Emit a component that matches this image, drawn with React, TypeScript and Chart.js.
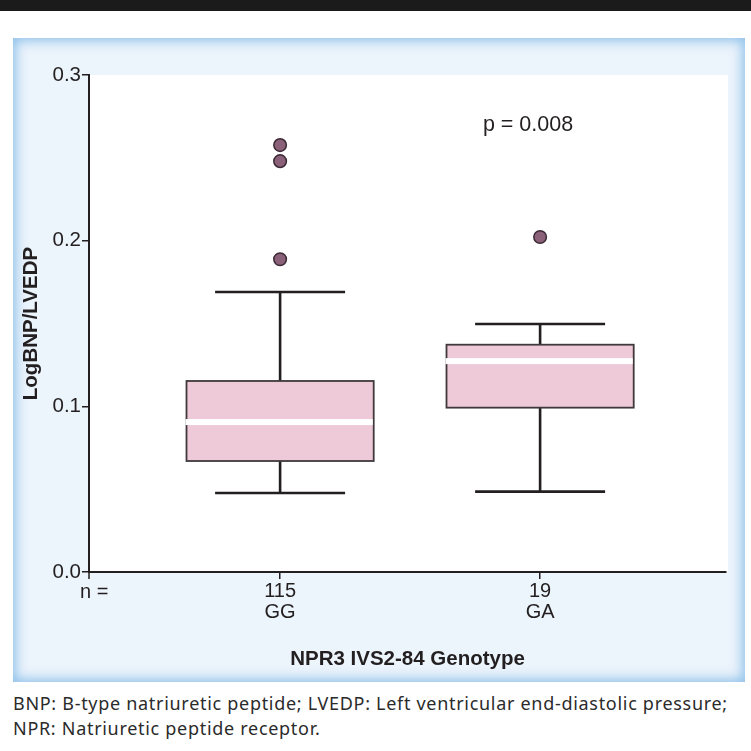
import React, { useEffect, useRef } from "react";
import { Chart, registerables } from "chart.js";

Chart.register(...registerables);

// ---- data ----
const categories = ["GG", "GA"];
const counts = ["115", "19"];
const positions = [1, 2];
const whiskerLow = [0.0477, 0.0485];
const q1 = [0.067, 0.0992];
const median = [0.0905, 0.1273];
const q3 = [0.1153, 0.1372];
const whiskerHigh = [0.169, 0.1497];
const outliersGG = [0.2577, 0.248, 0.1888];
const outliersGA = [0.2022];
const yTicks = [0, 0.1, 0.2, 0.3];
const pValueText = "p = 0.008";
const nLabel = "n =";
const xTitle = "NPR3 IVS2-84 Genotype";
const yTitle = "LogBNP/LVEDP";
const captionLines = [
  "BNP: B-type natriuretic peptide; LVEDP: Left ventricular end-diastolic pressure;",
  "NPR: Natriuretic peptide receptor.",
];

// ---- style constants ----
const FONT = "'Liberation Sans', Arial, Helvetica, sans-serif";
const INK = "#231f20";
const BOX_FILL = "#eec9d8";
const BOX_BORDER = "#3f393b";
const OUTLIER_FILL = "#8b6079";
const OUTLIER_BORDER = "#3a2a34";
const BOX_WIDTH = 0.72; // in x-units
const CAP_WIDTH = 0.5; // in x-units

const boxPlugin = {
  id: "boxplot",
  beforeDraw(chart: any) {
    const { ctx, chartArea } = chart;
    ctx.save();
    ctx.fillStyle = "#ffffff";
    ctx.fillRect(chartArea.left, chartArea.top, chartArea.right - chartArea.left + 2, chartArea.bottom - chartArea.top);
    ctx.restore();
  },
  beforeDatasetsDraw(chart: any) {
    const { ctx, scales } = chart;
    const x = scales.x;
    const y = scales.y;
    ctx.save();
    positions.forEach((pos, i) => {
      const cx = x.getPixelForValue(pos);
      const bl = x.getPixelForValue(pos - BOX_WIDTH / 2);
      const br = x.getPixelForValue(pos + BOX_WIDTH / 2);
      const cl = x.getPixelForValue(pos - CAP_WIDTH / 2);
      const cr = x.getPixelForValue(pos + CAP_WIDTH / 2);
      const yLo = y.getPixelForValue(whiskerLow[i]);
      const yQ1 = y.getPixelForValue(q1[i]);
      const yMed = y.getPixelForValue(median[i]);
      const yQ3 = y.getPixelForValue(q3[i]);
      const yHi = y.getPixelForValue(whiskerHigh[i]);
      // whiskers
      ctx.strokeStyle = INK;
      ctx.lineWidth = 2.6;
      ctx.lineCap = "butt";
      ctx.beginPath();
      ctx.moveTo(cx, yHi);
      ctx.lineTo(cx, yQ3);
      ctx.moveTo(cx, yQ1);
      ctx.lineTo(cx, yLo);
      ctx.moveTo(cl, yHi);
      ctx.lineTo(cr, yHi);
      ctx.moveTo(cl, yLo);
      ctx.lineTo(cr, yLo);
      ctx.stroke();
      // box
      ctx.fillStyle = BOX_FILL;
      ctx.fillRect(bl, yQ3, br - bl, yQ1 - yQ3);
      ctx.strokeStyle = BOX_BORDER;
      ctx.lineWidth = 1.8;
      ctx.strokeRect(bl, yQ3, br - bl, yQ1 - yQ3);
      // median
      ctx.fillStyle = "#ffffff";
      ctx.fillRect(bl - 1, yMed - 3, br - bl, 6);
    });
    ctx.restore();
  },
  afterDraw(chart: any) {
    const { ctx, scales, chartArea } = chart;
    const x = scales.x;
    const y = scales.y;
    ctx.save();
    // y-axis extension below x-axis
    ctx.strokeStyle = INK;
    ctx.lineWidth = 1.5;
    ctx.beginPath();
    ctx.moveTo(chartArea.left, chartArea.bottom);
    ctx.lineTo(chartArea.left, chartArea.bottom + 7);
    ctx.stroke();
    ctx.fillStyle = INK;
    ctx.font = `20px ${FONT}`;
    ctx.textBaseline = "middle";
    ctx.textAlign = "left";
    ctx.fillText(nLabel, chartArea.left - 9, chartArea.bottom + 20);
    ctx.font = `21.5px ${FONT}`;
    ctx.fillText(pValueText, x.getPixelForValue(1.78), y.getPixelForValue(0.27));
    ctx.restore();
  },
};

export default function App() {
  const ref = useRef<HTMLCanvasElement | null>(null);

  useEffect(() => {
    if (!ref.current) return;
    const points = [
      ...outliersGG.map((v) => ({ x: positions[0], y: v })),
      ...outliersGA.map((v) => ({ x: positions[1], y: v })),
    ];
    const chart = new Chart(ref.current, {
      type: "scatter",
      data: {
        datasets: [
          {
            data: points,
            pointRadius: 6.3,
            pointBackgroundColor: OUTLIER_FILL,
            pointBorderColor: OUTLIER_BORDER,
            pointBorderWidth: 1.5,
          },
        ],
      },
      options: {
        animation: false,
        responsive: false,
        maintainAspectRatio: false,
        layout: { padding: { top: 37, right: 19, left: 0, bottom: 0 } },
        plugins: { legend: { display: false }, tooltip: { enabled: false } },
        scales: {
          x: {
            type: "linear",
            min: 0.265,
            max: 2.715,
            afterBuildTicks: (s: any) => {
              s.ticks = positions.map((v) => ({ value: v }));
            },
            afterFit: (s: any) => {
              s.height = 110;
            },
            grid: {
              drawOnChartArea: false,
              drawTicks: true,
              tickLength: 7,
              color: INK,
              lineWidth: 1.5,
            },
            border: { display: true, color: INK, width: 2 },
            ticks: {
              autoSkip: false,
              maxRotation: 0,
              padding: 2,
              color: INK,
              font: { family: FONT, size: 20, lineHeight: 1.05 },
              callback: (v: any) => {
                const i = positions.indexOf(Number(v));
                return i >= 0 ? [counts[i], categories[i]] : "";
              },
            },
            title: {
              display: true,
              text: xTitle,
              color: INK,
              font: { family: FONT, size: 20.5, weight: "bold" },
              padding: { top: 0, bottom: 10 },
            },
          },
          y: {
            type: "linear",
            min: 0,
            max: 0.3,
            afterBuildTicks: (s: any) => {
              s.ticks = yTicks.map((v) => ({ value: v }));
            },
            afterFit: (s: any) => {
              s.width = 76;
            },
            grid: {
              drawOnChartArea: false,
              drawTicks: true,
              tickLength: 7,
              color: INK,
              lineWidth: 1.5,
            },
            border: { display: true, color: INK, width: 2 },
            ticks: {
              padding: 1,
              color: INK,
              font: { family: FONT, size: 20.5 },
              callback: (v: any) => Number(v).toFixed(1),
            },
            title: {
              display: true,
              text: yTitle,
              color: INK,
              font: { family: FONT, size: 20.5, weight: "bold" },
              padding: { top: 6.5, bottom: 0 },
            },
          },
        },
      },
      plugins: [boxPlugin],
    });
    return () => chart.destroy();
  }, []);

  return (
    <div style={{ position: "absolute", left: 0, top: 0, width: 751, height: 751, background: "#ffffff", overflow: "hidden" }}>
      <div style={{ position: "absolute", left: 0, top: 0, width: 751, height: 11, background: "#1b1b1b" }} />
      <div
        style={{
          position: "absolute",
          left: 13,
          top: 38,
          width: 732,
          height: 644,
          background: "#ecf4fc",
          boxShadow: "inset 0 0 12px 3px rgba(135,188,232,0.9)",
        }}
      >
        <canvas ref={ref} width={732} height={644} style={{ display: "block", width: 732, height: 644 }} />
      </div>
      <div
        style={{
          position: "absolute",
          left: 13,
          top: 691,
          fontFamily: "'Noto Sans', 'Open Sans', sans-serif",
          fontSize: 18,
          letterSpacing: "0.7px",
          lineHeight: "25px",
          color: "#2b2b2b",
          whiteSpace: "nowrap",
        }}
      >
        {captionLines.map((l, i) => (
          <div key={i}>{l}</div>
        ))}
      </div>
    </div>
  );
}
